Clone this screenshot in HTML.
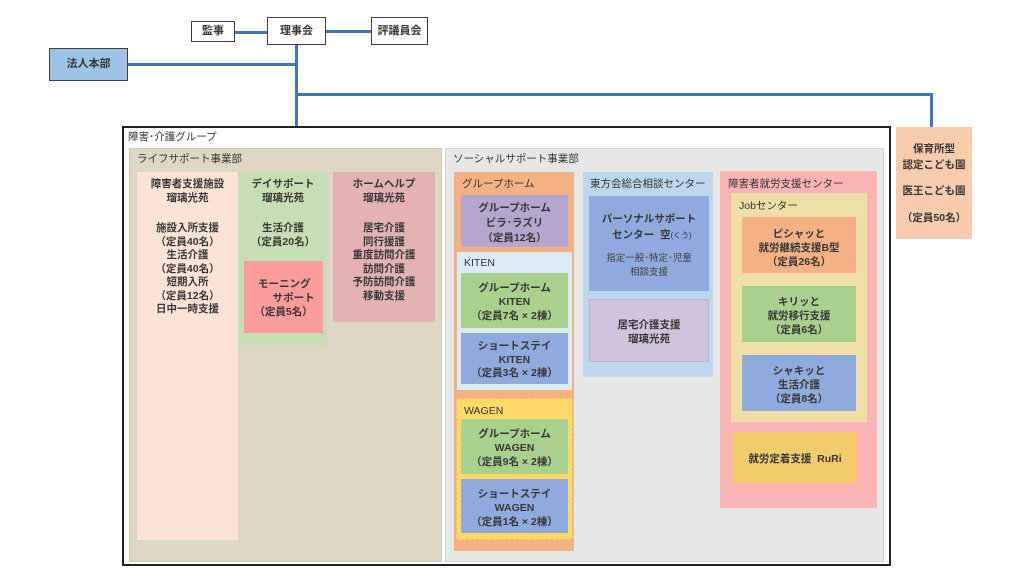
<!DOCTYPE html>
<html><head><meta charset="utf-8"><style>
*{margin:0;padding:0;box-sizing:border-box}
body{width:1024px;height:576px;background:#fff;position:relative;overflow:hidden;font-family:"Liberation Sans","Noto Sans CJK JP",sans-serif;color:#333}
.a{position:absolute}
.b{position:absolute;font-size:10.5px;font-weight:bold;text-align:center;white-space:nowrap;line-height:13.5px;margin-top:2px;color:#383838}
.l{position:absolute;font-size:10.5px;white-space:nowrap;line-height:14px;color:#333;margin-top:1px}
.ln{position:absolute;background:#4472C4}
.top{position:absolute;background:#fff;border:1px solid #404040;font-size:11px;font-weight:bold;text-align:center;color:#383838}
</style></head><body>

<!-- connectors -->
<div class="ln" style="left:235px;top:31px;width:32px;height:3px"></div>
<div class="ln" style="left:326px;top:30px;width:45px;height:3px"></div>
<div class="ln" style="left:295px;top:45px;width:3px;height:81px"></div>
<div class="ln" style="left:128px;top:63px;width:168px;height:3px"></div>
<div class="ln" style="left:296px;top:93px;width:637px;height:3px"></div>
<div class="ln" style="left:930px;top:93px;width:3px;height:34px"></div>

<!-- top boxes -->
<div class="top" style="left:191px;top:21px;width:44px;height:21px;line-height:19px">監事</div>
<div class="top" style="left:267px;top:17px;width:59px;height:28px;line-height:26px">理事会</div>
<div class="top" style="left:371px;top:17px;width:57px;height:28px;line-height:26px">評議員会</div>
<div class="top" style="left:49px;top:48px;width:79px;height:33px;line-height:31px;background:#9DC3E6">法人本部</div>

<!-- outer group -->
<div class="a" style="left:122px;top:126px;width:769px;height:440px;border:2px solid #222;background:#fff"></div>
<div class="l" style="left:128px;top:129px">障害･介護グループ</div>

<!-- life support -->
<div class="a" style="left:129px;top:148px;width:313px;height:414px;background:#DDD7C3;border:1px solid #cfcab8"></div>
<div class="l" style="left:137px;top:151px">ライフサポート事業部</div>

<div class="a" style="left:137px;top:172px;width:101px;height:368px;background:#FCE3D5"></div>
<div class="b" style="left:137px;top:176px;width:101px">障害者支援施設<br>瑠璃光苑</div>
<div class="b" style="left:137px;top:220px;width:101px">施設入所支援<br>（定員40名）<br>生活介護<br>（定員40名）<br>短期入所<br>（定員12名）<br>日中一時支援</div>

<div class="a" style="left:239px;top:172px;width:88px;height:173px;background:#C5DFB3"></div>
<div class="b" style="left:239px;top:176px;width:88px">デイサポート<br>瑠璃光苑</div>
<div class="b" style="left:239px;top:220px;width:88px">生活介護<br>（定員20名）</div>

<div class="a" style="left:244px;top:261px;width:79px;height:72px;background:#FA9C9A"></div>
<div class="b" style="left:244px;top:276px;width:79px;text-align:left;padding-left:14px">モーニング<br>&nbsp;&nbsp;&nbsp;&nbsp;&nbsp;サポート</div>
<div class="b" style="left:244px;top:304px;width:79px">（定員5名）</div>

<div class="a" style="left:333px;top:172px;width:102px;height:150px;background:#E3B2B1"></div>
<div class="b" style="left:333px;top:176px;width:102px">ホームヘルプ<br>瑠璃光苑</div>
<div class="b" style="left:333px;top:220px;width:102px">居宅介護<br>同行援護<br>重度訪問介護<br>訪問介護<br>予防訪問介護<br>移動支援</div>

<!-- social support -->
<div class="a" style="left:445px;top:148px;width:439px;height:414px;background:#E7E8E6;border:1px solid #d6d7d5"></div>
<div class="l" style="left:453px;top:151px">ソーシャルサポート事業部</div>

<!-- group home column -->
<div class="a" style="left:454px;top:172px;width:120px;height:379px;background:#F4B183"></div>
<div class="l" style="left:462px;top:176px">グループホーム</div>
<div class="a" style="left:461px;top:195px;width:107px;height:52px;background:#B4A6CF"></div>
<div class="b" style="left:461px;top:199px;width:107px;line-height:15px">グループホーム<br>ビラ･ラズリ<br>（定員12名）</div>

<div class="a" style="left:457px;top:252px;width:115px;height:138px;background:#DDEBF7"></div>
<div class="l" style="left:464px;top:255px">KITEN</div>
<div class="a" style="left:461px;top:273px;width:107px;height:55px;background:#A9D18E"></div>
<div class="b" style="left:461px;top:279px;width:107px;line-height:14px">グループホーム<br>KITEN<br>（定員7名 × 2棟）</div>
<div class="a" style="left:461px;top:333px;width:107px;height:51px;background:#8FAADC"></div>
<div class="b" style="left:461px;top:338px;width:107px;line-height:13.5px">ショートステイ<br>KITEN<br>（定員3名 × 2棟）</div>

<div class="a" style="left:456px;top:398px;width:117px;height:142px;background:#FFD966;border:1px dashed #F4B183"></div>
<div class="l" style="left:464px;top:403px">WAGEN</div>
<div class="a" style="left:461px;top:419px;width:107px;height:55px;background:#A9D18E"></div>
<div class="b" style="left:461px;top:425px;width:107px;line-height:14px">グループホーム<br>WAGEN<br>（定員9名 × 2棟）</div>
<div class="a" style="left:461px;top:479px;width:107px;height:54px;background:#8FAADC"></div>
<div class="b" style="left:461px;top:485px;width:107px;line-height:14px">ショートステイ<br>WAGEN<br>（定員1名 × 2棟）</div>

<!-- consultation center -->
<div class="a" style="left:583px;top:172px;width:130px;height:205px;background:#BDD7EE"></div>
<div class="l" style="left:590px;top:176px">東方会総合相談センター</div>
<div class="a" style="left:589px;top:196px;width:120px;height:95px;background:#8FAADC"></div>
<div class="b" style="left:589px;top:209px;width:120px;line-height:16px">パーソナルサポート<br>&nbsp;&nbsp;センター&nbsp;&nbsp;空<span style="font-size:8px;font-weight:normal">(くう)</span></div>
<div class="b" style="left:589px;top:250px;width:120px;font-weight:normal;font-size:9.5px;color:#444;line-height:14px">指定一般･特定･児童<br>相談支援</div>
<div class="a" style="left:589px;top:299px;width:120px;height:63px;background:#D0C3DD;border:1px solid #bfb2cc"></div>
<div class="b" style="left:589px;top:316px;width:120px;line-height:14px">居宅介護支援<br>瑠璃光苑</div>

<!-- employment center -->
<div class="a" style="left:720px;top:171px;width:157px;height:337px;background:#FBB4B4"></div>
<div class="l" style="left:728px;top:176px">障害者就労支援センター</div>
<div class="a" style="left:731px;top:193px;width:136px;height:229px;background:#EFDFA7"></div>
<div class="l" style="left:739px;top:198px">Jobセンター</div>
<div class="a" style="left:742px;top:217px;width:114px;height:56px;background:#F4B183"></div>
<div class="b" style="left:742px;top:225px;width:114px;line-height:14px">ピシャッと<br>就労継続支援B型<br>（定員26名）</div>
<div class="a" style="left:742px;top:286px;width:114px;height:56px;background:#A9D18E"></div>
<div class="b" style="left:742px;top:293px;width:114px;line-height:14px">キリッと<br>就労移行支援<br>（定員6名）</div>
<div class="a" style="left:742px;top:355px;width:114px;height:56px;background:#8FAADC"></div>
<div class="b" style="left:742px;top:362px;width:114px;line-height:14px">シャキッと<br>生活介護<br>（定員8名）</div>
<div class="a" style="left:733px;top:432px;width:124px;height:51px;background:#F2CB6A"></div>
<div class="b" style="left:733px;top:450px;width:124px;line-height:14px">就労定着支援&nbsp;&nbsp;RuRi</div>

<!-- nursery -->
<div class="a" style="left:896px;top:127px;width:76px;height:112px;background:#F8CBAD"></div>
<div class="b" style="left:896px;top:140px;width:76px;line-height:15.5px">保育所型<br>認定こども園</div>
<div class="b" style="left:896px;top:183px;width:76px">医王こども園</div>
<div class="b" style="left:896px;top:210px;width:76px">（定員50名）</div>

</body></html>
